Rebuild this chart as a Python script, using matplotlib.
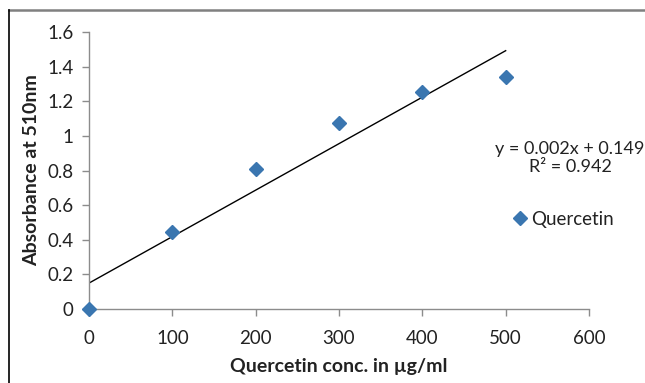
import numpy as np
import matplotlib.pyplot as plt
from matplotlib.lines import Line2D

plt.rcParams['font.family'] = ['Lato', 'DejaVu Sans']

# data
conc = [0, 100, 200, 300, 400, 500]
absorbance = [0.0, 0.445, 0.81, 1.075, 1.254, 1.341]
x_ticks = [0, 100, 200, 300, 400, 500, 600]
y_ticks = [0, 0.2, 0.4, 0.6, 0.8, 1.0, 1.2, 1.4, 1.6]
y_labels = ['0', '0.2', '0.4', '0.6', '0.8', '1', '1.2', '1.4', '1.6']
eq_text = 'y = 0.002x + 0.149\nR² = 0.942'

W, H = 645, 383
fig = plt.figure(figsize=(W / 100, H / 100), dpi=100)
ax = fig.add_axes([89 / W, 1 - 309 / H, 500 / W, 277 / H])

blue = '#3A76B0'
grey = '#8C8C8C'
txt = '#222222'

# linear trendline
slope, icpt = np.polyfit(conc, absorbance, 1)
xs = np.array([conc[0], conc[-1]])
ax.plot(xs, slope * xs + icpt, color='black', lw=1.0, zorder=2)

ax.plot(conc, absorbance, linestyle='none', marker='D', markersize=7.5,
        color=blue, clip_on=False, zorder=3)

ax.set_xlim(0, 600)
ax.set_ylim(0, 1.6)
ax.set_xticks(x_ticks)
ax.set_yticks(y_ticks)
ax.set_yticklabels(y_labels)

for side in ['top', 'right']:
    ax.spines[side].set_visible(False)
for side in ['left', 'bottom']:
    ax.spines[side].set_color(grey)
    ax.spines[side].set_linewidth(1.0)
ax.tick_params(colors=grey, labelcolor=txt, labelsize=13.5,
               length=5, width=1.0, direction='out')
ax.tick_params(axis='x', pad=10)
ax.tick_params(axis='y', pad=6)

ax.set_xlabel('Quercetin conc. in µg/ml', fontsize=14, fontweight='bold',
              labelpad=8, color=txt)
ax.set_ylabel('Absorbance at 510nm', fontsize=14, fontweight='bold',
              labelpad=5, color=txt)

fig.text(570 / W, 1 - 158 / H, eq_text, ha='center', va='center',
         fontsize=13, color=txt, linespacing=1.2)

h = Line2D([], [], linestyle='none', marker='D', markersize=7, color=blue)
fig.legend([h], ['Quercetin'], loc='center left',
           bbox_to_anchor=(492 / W, 1 - 219 / H), frameon=False,
           fontsize=13.5, handletextpad=0.0, handlelength=1.2,
           labelcolor=txt)

# outer chart frame
fig.add_artist(Line2D([9 / W, 1], [1 - 10 / H, 1 - 10 / H], color='#808080',
                      lw=1.8, transform=fig.transFigure))
fig.add_artist(Line2D([9 / W, 9 / W], [1 - 10 / H, 0], color='black',
                      lw=1.2, transform=fig.transFigure))

fig.savefig('out.png', dpi=100)
